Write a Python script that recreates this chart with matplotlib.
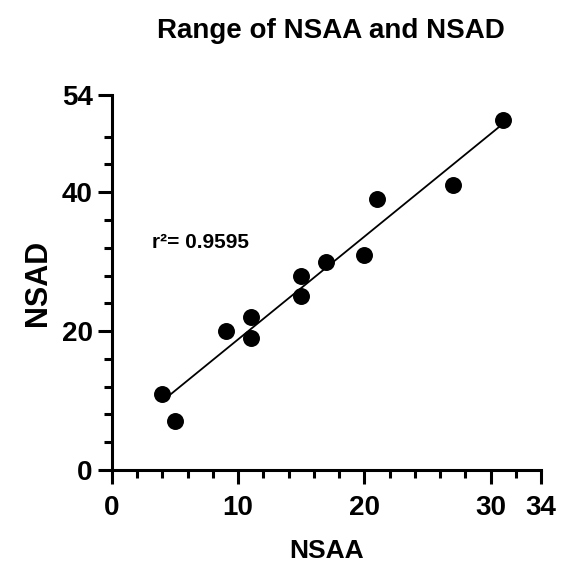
import numpy as np
import matplotlib.pyplot as plt
from matplotlib.ticker import FixedLocator

plt.rcParams['font.family'] = ['Liberation Sans', 'DejaVu Sans']
plt.rcParams['font.weight'] = 'bold'

# datos
nsaa = [4, 5, 9, 11, 11, 15, 15, 17, 20, 21, 27, 31]
nsad = [11, 7, 20, 22, 19, 28, 25, 30, 31, 39, 41, 50.4]
x_ticks = [0, 10, 20, 30, 34]
y_ticks = [0, 20, 40, 54]
r2_text = 'r²= 0.9595'

fig = plt.figure(figsize=(5.61, 5.71), dpi=100)
ax = fig.add_axes([0.1996, 0.1769, 0.7647, 0.6567])

# ajuste lineal
slope, intercept = np.polyfit(nsaa, nsad, 1)
xs = np.array([min(nsaa), max(nsaa)])
ax.plot(xs, slope * xs + intercept, color='black', lw=1.3, zorder=2)
ax.scatter(nsaa, nsad, s=125, color='black', zorder=3, clip_on=False)

ax.set_xlim(0, 34)
ax.set_ylim(0, 54)
ax.set_xticks(x_ticks)
ax.set_yticks(y_ticks)
ax.xaxis.set_minor_locator(FixedLocator([v for v in range(2, 34, 2) if v % 10 != 0]))
ax.yaxis.set_minor_locator(FixedLocator([v for v in range(4, 52, 4) if v % 20 != 0]))

for s in ['top', 'right']:
    ax.spines[s].set_visible(False)
for s in ['left', 'bottom']:
    ax.spines[s].set_linewidth(2.2)

ax.tick_params(which='major', length=10, width=2.2, labelsize=20, pad=4)
ax.tick_params(which='minor', length=6, width=2.2)
ax.tick_params(axis='x', which='major', pad=8)
for lab in ax.get_xticklabels() + ax.get_yticklabels():
    lab.set_fontweight('bold')

ax.set_xlabel('NSAA', fontsize=19, fontweight='bold', labelpad=13)
ax.set_ylabel('NSAD', fontsize=22, fontweight='bold', labelpad=6)
fig.suptitle('Range of NSAA and NSAD', fontsize=20, fontweight='bold', x=0.59, y=0.968)

ax.text(3.2, 32.8, r2_text, fontsize=15, fontweight='bold', va='center', ha='left')

fig.savefig('out.png', dpi=100)
